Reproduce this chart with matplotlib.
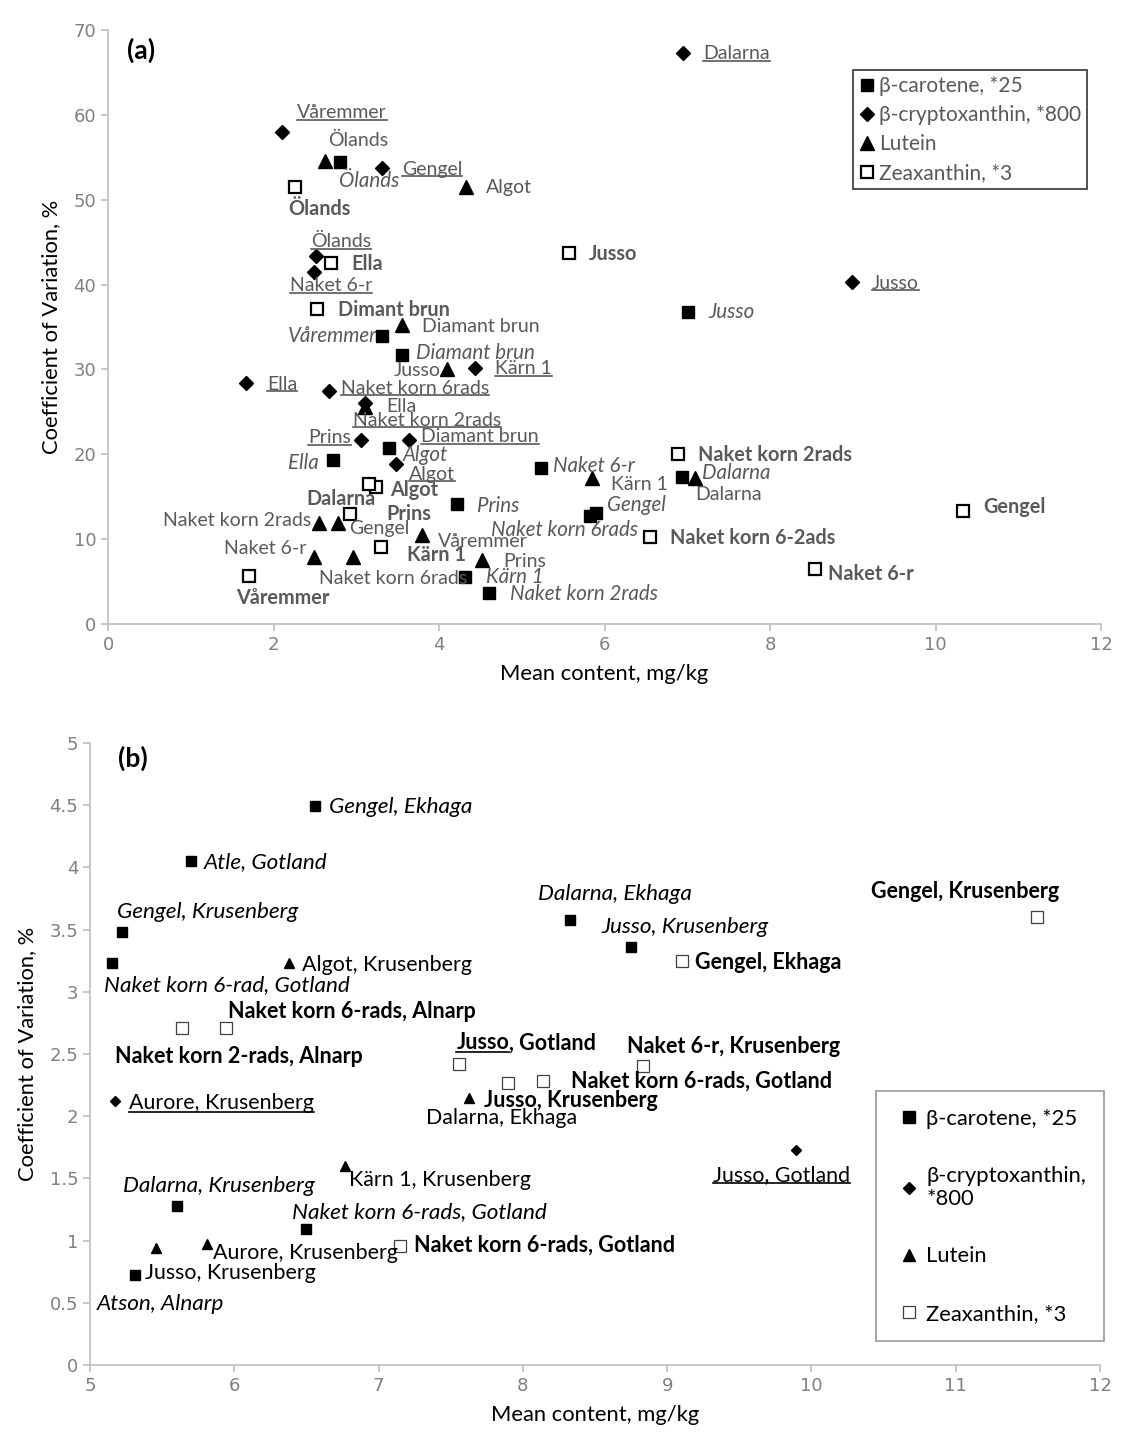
import matplotlib.pyplot as plt
from matplotlib.lines import Line2D
from matplotlib.ticker import FuncFormatter

plt.rcParams['font.family'] = ['Lato', 'DejaVu Sans']

# ---------------- panel (a) data ----------------
a_car_names = ['Ölands', 'Våremmer', 'Diamant brun', 'Ella', 'Algot', 'Prins', 'Naket 6-r',
               'Naket korn 6rads', 'Gengel', 'Dalarna', 'Jusso', 'Kärn 1', 'Naket korn 2rads']
a_car_x = [2.80, 3.31, 3.55, 2.72, 3.39, 4.22, 5.23, 5.82, 5.90, 6.94, 7.01, 4.31, 4.60]
a_car_y = [54.4, 33.9, 31.7, 19.3, 20.7, 14.2, 18.4, 12.7, 13.1, 17.3, 36.8, 5.5, 3.6]

a_cry_names = ['Våremmer', 'Gengel', 'Ölands', 'Naket 6-r', 'Ella', 'Naket korn 6rads', 'Kärn 1',
               'Naket korn 2rads', 'Prins', 'Diamant brun', 'Algot', 'Dalarna', 'Jusso']
a_cry_x = [2.10, 3.31, 2.51, 2.49, 1.67, 2.67, 4.44, 3.10, 3.06, 3.64, 3.48, 6.95, 8.99]
a_cry_y = [58.0, 53.7, 43.4, 41.5, 28.4, 27.4, 30.2, 26.0, 21.7, 21.7, 18.8, 67.3, 40.3]

a_lut_names = ['Ölands', 'Algot', 'Diamant brun', 'Jusso', 'Ella', 'Kärn 1', 'Dalarna',
               'Naket korn 2rads', 'Gengel', 'Våremmer', 'Naket 6-r', 'Naket korn 6rads', 'Prins']
a_lut_x = [2.62, 4.33, 3.55, 4.10, 3.11, 5.85, 7.09, 2.55, 2.78, 3.79, 2.49, 2.96, 4.52]
a_lut_y = [54.6, 51.5, 35.2, 30.0, 25.6, 17.2, 17.2, 11.9, 11.9, 10.5, 7.9, 7.9, 7.5]

a_zea_names = ['Ölands', 'Ella', 'Dimant brun', 'Jusso', 'Algot', 'Dalarna', 'Prins', 'Kärn 1',
               'Våremmer', 'Naket korn 2rads', 'Naket korn 6-2ads', 'Naket 6-r', 'Gengel']
a_zea_x = [2.26, 2.70, 2.52, 5.57, 3.24, 3.15, 2.92, 3.30, 1.70, 6.89, 6.55, 8.54, 10.33]
a_zea_y = [51.5, 42.5, 37.1, 43.7, 16.1, 16.5, 13.0, 9.1, 5.6, 20.0, 10.3, 6.5, 13.3]

# ---------------- panel (b) data ----------------
b_car_names = ['Gengel, Ekhaga', 'Atle, Gotland', 'Gengel, Krusenberg', 'Naket korn 6-rad, Gotland',
               'Dalarna, Ekhaga', 'Jusso, Krusenberg', 'Dalarna, Krusenberg',
               'Naket korn 6-rads, Gotland', 'Atson, Alnarp']
b_car_x = [6.56, 5.70, 5.22, 5.15, 8.33, 8.75, 5.60, 6.50, 5.31]
b_car_y = [4.49, 4.05, 3.48, 3.23, 3.58, 3.36, 1.28, 1.09, 0.72]

b_cry_names = ['Aurore, Krusenberg', 'Jusso, Gotland']
b_cry_x = [5.17, 9.89]
b_cry_y = [2.12, 1.73]

b_lut_names = ['Algot, Krusenberg', 'Dalarna, Ekhaga', 'Kärn 1, Krusenberg', 'Jusso, Krusenberg',
               'Aurore, Krusenberg']
b_lut_x = [6.38, 7.63, 6.77, 5.46, 5.81]
b_lut_y = [3.23, 2.15, 1.60, 0.94, 0.97]

b_zea_names = ['Gengel, Krusenberg', 'Gengel, Ekhaga', 'Naket korn 2-rads, Alnarp',
               'Naket korn 6-rads, Alnarp', 'Jusso, Gotland', 'Naket 6-r, Krusenberg',
               'Jusso, Krusenberg', 'Naket korn 6-rads, Gotland', 'Naket korn 6-rads, Gotland']
b_zea_x = [11.56, 9.10, 5.64, 5.94, 7.56, 8.83, 7.90, 8.14, 7.15]
b_zea_y = [3.60, 3.25, 2.71, 2.71, 2.42, 2.40, 2.27, 2.28, 0.96]

legend_a = ['β-carotene, *25', 'β-cryptoxanthin, *800', 'Lutein', 'Zeaxanthin, *3']
legend_b = ['β-carotene, *25', 'β-cryptoxanthin,\n*800', 'Lutein', 'Zeaxanthin, *3']

# label placement (alignment, dx, dy in pixels from the marker)
a_car_lab = [('left', -1, -19), ('right', -5, 0), ('left', 14, 2), ('right', -14, -3), ('left', 14, -7),
             ('left', 20, -2), ('left', 12, 2), ('right', 49, -14), ('left', 11, 8), ('left', 20, 4),
             ('left', 20, 0), ('left', 21, 0), ('left', 21, -1)]
a_cry_lab = [('left', 15, 19), ('left', 20, -1), ('left', -5, 14), ('left', -24, -14), ('left', 21, -1),
             ('left', 12, 3), ('left', 20, -1), ('left', -12, -17), ('right', -10, 2), ('left', 12, 3),
             ('left', 13, -10), ('left', 20, -1), ('left', 20, -1)]
a_lut_lab = [('left', 3, 20), ('left', 20, -1), ('left', 20, -1), ('right', -7, -1), ('left', 21, 0),
             ('left', 19, -6), ('left', 1, -16), ('right', -8, 3), ('left', 11, -5), ('left', 16, -7),
             ('right', -8, 8), ('left', -34, -22), ('left', 21, -1)]
a_zea_lab = [('left', -7, -22), ('left', 20, -1), ('left', 21, -1), ('left', 20, -1), ('left', 14, -3),
             ('right', 7, -15), ('left', 37, 0), ('left', 26, -8), ('left', -13, -22), ('left', 20, -1),
             ('left', 20, -1), ('left', 13, -5), ('left', 20, 4)]

b_car_lab = [('left', 14, -1), ('left', 13, -1), ('left', -5, 20), ('left', -8, -22), ('left', -32, 26),
             ('left', -30, 20), ('left', -54, 20), ('left', -14, 17), ('left', -38, -29)]
b_cry_lab = [('left', 14, -2), ('left', -83, -25)]
b_lut_lab = [('left', 13, -2), ('left', -43, -20), ('left', 4, -14), ('left', -11, -25), ('left', 6, -9)]
b_zea_lab = [('right', 23, 26), ('left', 13, -2), ('left', -67, -29), ('left', 2, 16), ('left', -3, 21),
             ('left', -16, 20), ('left', -24, -18), ('left', 28, 0), ('left', 14, 0)]
b_zea_partial = {4: 'Jusso'}   # only this part underlined

W, H = 1133, 1450
fig = plt.figure(figsize=(W / 100, H / 100), dpi=100)
ax1 = fig.add_axes([108 / W, 1 - 624 / H, 993 / W, 594 / H])
ax2 = fig.add_axes([90 / W, 1 - 1365 / H, 1010 / W, 622 / H])

ulines = []
# font size per label style (Lato italic runs narrower than the original)
size_a = {'normal': 14, 'uline': 14, 'bold': 14.3, 'italic': 14.8}
size_b = {'normal': 15.4, 'uline': 15.4, 'bold': 15.5, 'italic': 16.2}


def put_label(ax, x, y, text, lab, style, color, size):
    ha, dx, dy = lab
    kw = dict(textcoords='offset pixels', xytext=(dx, dy), ha=ha, va='center',
              color=color, fontsize=size, zorder=6)
    if style == 'italic':
        kw['fontstyle'] = 'italic'
    if style == 'bold':
        kw['fontweight'] = 'bold'
    t = ax.annotate(text, (x, y), **kw)
    if style == 'uline':
        ulines.append((t, color))
    return t


def style_axes(ax):
    for s in ['top', 'right']:
        ax.spines[s].set_visible(False)
    for s in ['left', 'bottom']:
        ax.spines[s].set_color('#BFBFBF')
        ax.spines[s].set_linewidth(1.2)
    ax.tick_params(direction='out', length=5, width=1.2, color='#BFBFBF',
                   labelcolor='#808080', labelsize=13)
    for lab in ax.get_xticklabels() + ax.get_yticklabels():
        lab.set_fontfamily('DejaVu Sans')


def draw_panel(ax, groups, mew, color, sizes):
    for (xs, ys, names, labs, marker, filled, style, m) in groups:
        if filled:
            ax.plot(xs, ys, ls='none', marker=marker, ms=m, color='black', zorder=3)
        else:
            ax.plot(xs, ys, ls='none', marker=marker, ms=m, mfc='white', mec='black',
                    mew=mew, zorder=4)
        for x, y, n, lb in zip(xs, ys, names, labs):
            put_label(ax, x, y, n, lb, style, color, sizes[style])


# ---- (a)
gray = '#595959'
draw_panel(ax1, [
    (a_car_x, a_car_y, a_car_names, a_car_lab, 's', True, 'italic', 9),
    (a_cry_x, a_cry_y, a_cry_names, a_cry_lab, 'D', True, 'uline', 7),
    (a_lut_x, a_lut_y, a_lut_names, a_lut_lab, '^', True, 'normal', 9.5),
    (a_zea_x, a_zea_y, a_zea_names, a_zea_lab, 's', False, 'bold', 8.5),
], 1.6, gray, size_a)
ax1.set_xlim(0, 12)
ax1.set_ylim(0, 70)
ax1.set_xticks(range(0, 13, 2))
ax1.set_yticks(range(0, 71, 10))
style_axes(ax1)
ax1.set_xlabel('Mean content, mg/kg', fontsize=15.8, labelpad=7)
ax1.set_ylabel('Coefficient of Variation, %', fontsize=15.8, labelpad=9)
ax1.text(0.019, 0.965, '(a)', transform=ax1.transAxes, fontsize=19, fontweight='bold',
         ha='left', va='center')

hA = [Line2D([], [], ls='none', marker='s', color='black', ms=9),
      Line2D([], [], ls='none', marker='D', color='black', ms=7),
      Line2D([], [], ls='none', marker='^', color='black', ms=9.5),
      Line2D([], [], ls='none', marker='s', mfc='white', mec='black', mew=1.6, ms=8.5)]
lg = ax1.legend(hA, legend_a, loc='upper left', bbox_to_anchor=(0.750, 0.933), frameon=True,
                fancybox=False, edgecolor='black', fontsize=15, labelcolor=gray,
                handlelength=0.8, handletextpad=0.15, labelspacing=0.43, borderpad=0.3,
                borderaxespad=0)
lg.get_frame().set_linewidth(1.2)

# ---- (b)
groups_b = [
    (b_car_x, b_car_y, b_car_names, b_car_lab, 's', True, 'italic', 7.5),
    (b_cry_x, b_cry_y, b_cry_names, b_cry_lab, 'D', True, 'uline', 5.5),
    (b_lut_x, b_lut_y, b_lut_names, b_lut_lab, '^', True, 'normal', 7.5),
]
draw_panel(ax2, groups_b, 1.0, 'black', size_b)
ax2.plot(b_zea_x, b_zea_y, ls='none', marker='s', ms=8, mfc='white', mec='#404040', mew=0.9, zorder=4)
for i, (x, y, n, lb) in enumerate(zip(b_zea_x, b_zea_y, b_zea_names, b_zea_lab)):
    if i in b_zea_partial:
        part = b_zea_partial[i]
        t1 = put_label(ax2, x, y, part, lb, 'bold', 'black', size_b['bold'])
        ulines.append((t1, 'black'))
        ax2.annotate(n[len(part):], xy=(1, 0), xycoords=t1, ha='left', va='bottom',
                     fontsize=size_b['bold'], fontweight='bold', color='black', zorder=6)
    else:
        put_label(ax2, x, y, n, lb, 'bold', 'black', size_b['bold'])

ax2.set_xlim(5, 12)
ax2.set_ylim(0, 5)
ax2.set_xticks(range(5, 13))
ax2.set_yticks([i * 0.5 for i in range(11)])
ax2.yaxis.set_major_formatter(FuncFormatter(lambda v, p: f'{v:g}'))
style_axes(ax2)
ax2.set_xlabel('Mean content, mg/kg', fontsize=15.8, labelpad=7)
ax2.set_ylabel('Coefficient of Variation, %', fontsize=15.8, labelpad=9)
ax2.text(0.028, 0.975, '(b)', transform=ax2.transAxes, fontsize=19, fontweight='bold',
         ha='left', va='center')

hB = [Line2D([], [], ls='none', marker='s', color='black', ms=8),
      Line2D([], [], ls='none', marker='D', color='black', ms=6),
      Line2D([], [], ls='none', marker='^', color='black', ms=8),
      Line2D([], [], ls='none', marker='s', mfc='white', mec='#404040', mew=0.9, ms=8.5)]
lg2 = ax2.legend(hB, legend_b, loc='upper left', bbox_to_anchor=(0.778, 0.4405), frameon=True,
                 fancybox=False, edgecolor='#808080', fontsize=15.8, labelcolor='black',
                 handlelength=1.4, handletextpad=0.1, labelspacing=1.7, borderpad=0.8,
                 borderaxespad=0)
lg2.get_frame().set_linewidth(1.2)

# underlines for the β-cryptoxanthin labels
fig.canvas.draw()
r = fig.canvas.get_renderer()
inv = fig.transFigure.inverted()
for t, c in ulines:
    bb = t.get_window_extent(r)
    p = inv.transform([(bb.x0, bb.y0 + 1.5), (bb.x1, bb.y0 + 1.5)])
    fig.add_artist(Line2D(p[:, 0], p[:, 1], color=c, lw=1.2))

fig.savefig('out.png', dpi=100)
